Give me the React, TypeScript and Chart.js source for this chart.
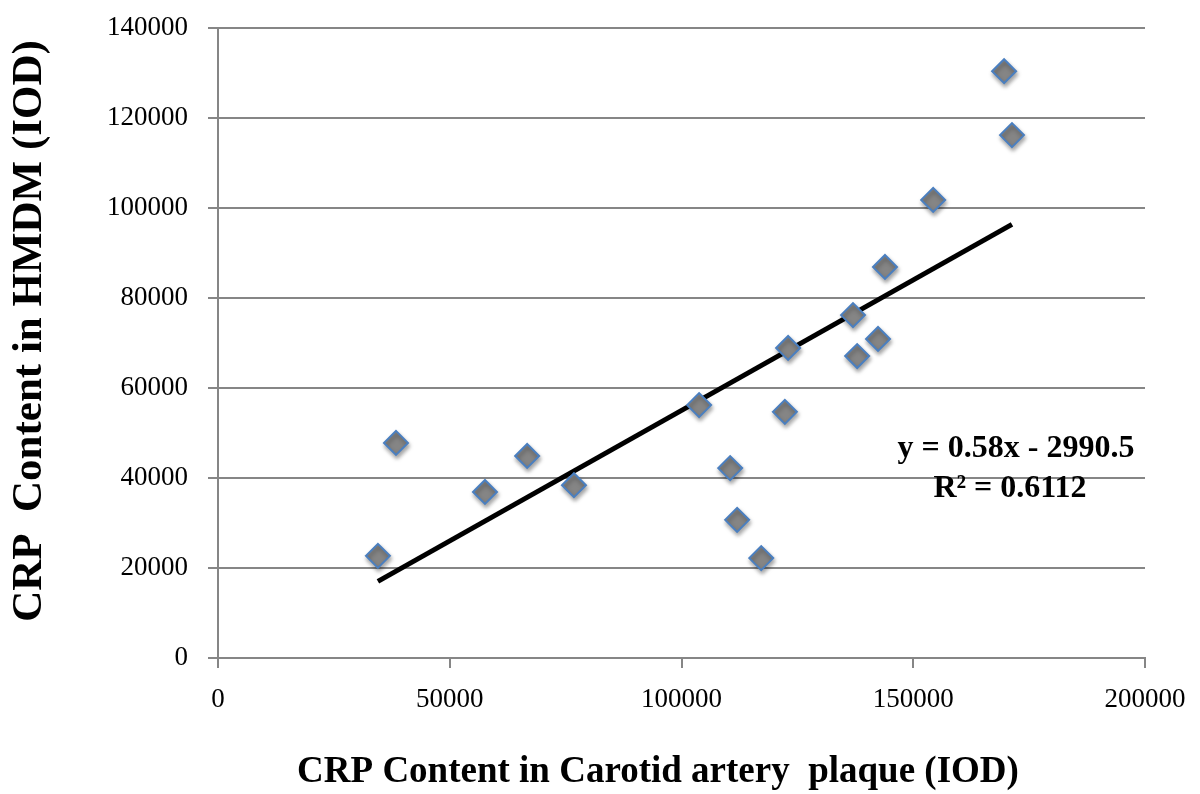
import React, { useEffect, useRef } from "react";
import { Chart, registerables } from "chart.js";

Chart.register(...registerables);

const plaqueCRP = [34500, 38400, 57600, 66700, 76800, 103800, 110500, 112000, 117200, 122300, 123000, 137000, 137900, 142400, 143900, 154300, 169600, 171300];
const hmdmCRP = [22700, 47800, 36900, 44900, 38400, 56200, 42200, 30700, 22200, 54700, 68900, 76200, 67100, 70900, 86900, 101800, 130400, 116200];
const trendX = [34500, 171300];
const trendY = [17020, 96360];
const equationLines = ["y = 0.58x - 2990.5", "R\u00B2 = 0.6112"];
const xTitle = "CRP Content in Carotid artery  plaque (IOD)";
const yTitle = "CRP  Content in HMDM (IOD)";

const FONT = "'Liberation Serif', serif";

export default function App() {
  const ref = useRef<HTMLCanvasElement | null>(null);
  useEffect(() => {
    document.body.style.margin = "0";
    const canvas = ref.current!;
    const shadowPlugin = {
      id: "shadowPts",
      beforeDatasetDraw(chart: any, args: any) {
        if (args.index === 0) {
          const c = chart.ctx;
          c.save();
          c.shadowColor = "rgba(0,0,0,0.35)";
          c.shadowBlur = 4;
          c.shadowOffsetX = 1;
          c.shadowOffsetY = 3;
        }
      },
      afterDatasetDraw(chart: any, args: any) {
        if (args.index === 0) chart.ctx.restore();
      },
    };
    const textPlugin = {
      id: "eqText",
      afterDraw(chart: any) {
        const c = chart.ctx;
        c.save();
        c.fillStyle = "#000";
        c.font = `bold 32px ${FONT}`;
        c.textAlign = "center";
        c.textBaseline = "middle";
        c.fillText(equationLines[0], 1016, 449);
        c.fillText(equationLines[1], 1010, 489);
        c.font = `bold 37px ${FONT}`;
        c.fillText(xTitle, 658, 772);
        c.translate(30, 331);
        c.rotate(-Math.PI / 2);
        c.font = `bold 43px ${FONT}`;
        c.fillText(yTitle, 0, 0);
        c.restore();
      },
    };
    const fmt = (v: any) => String(v);
    const chart = new Chart(canvas, {
      type: "scatter",
      data: {
        datasets: [
          {
            type: "scatter",
            data: plaqueCRP.map((x, i) => ({ x, y: hmdmCRP[i] })),
            pointStyle: "rectRot",
            pointRadius: 12,
            backgroundColor: "#858585",
            borderColor: "#4a7fc0",
            borderWidth: 2,
            order: 0,
          },
          {
            type: "line",
            data: trendX.map((x, i) => ({ x, y: trendY[i] })),
            borderColor: "#000",
            borderWidth: 5,
            pointRadius: 0,
            fill: false,
            order: 1,
          } as any,
        ],
      },
      options: {
        animation: false,
        responsive: false,
        maintainAspectRatio: false,
        layout: { padding: { top: 28, right: 55, left: 0, bottom: 0 } },
        plugins: { legend: { display: false }, tooltip: { enabled: false } },
        scales: {
          x: {
            type: "linear",
            min: 0,
            max: 200000,
            ticks: { stepSize: 50000, color: "#000", font: { family: FONT, size: 27 }, padding: 16, maxRotation: 0, callback: fmt },
            grid: { drawOnChartArea: false, drawTicks: true, tickLength: 10, color: "#868686", lineWidth: 2 },
            border: { display: true, color: "#868686", width: 2 },
            title: { display: false },
            afterFit(scale: any) { scale.height = 136; scale.paddingRight = 0; scale.paddingLeft = 0; },
          },
          y: {
            type: "linear",
            min: 0,
            max: 140000,
            ticks: { stepSize: 20000, color: "#000", font: { family: FONT, size: 27 }, padding: 20, callback: fmt },
            grid: { drawOnChartArea: true, drawTicks: true, tickLength: 10, color: "#868686", lineWidth: 2 },
            border: { display: true, color: "#868686", width: 2 },
            title: { display: false },
            afterFit(scale: any) { scale.width = 218; scale.paddingTop = 0; scale.paddingBottom = 0; },
          },
        },
      },
      plugins: [shadowPlugin, textPlugin],
    } as any);
    return () => chart.destroy();
  }, []);
  return (
    <div style={{ width: 1200, height: 794 }}>
      <canvas ref={ref} width={1200} height={794} style={{ display: "block", width: 1200, height: 794 }} />
    </div>
  );
}
